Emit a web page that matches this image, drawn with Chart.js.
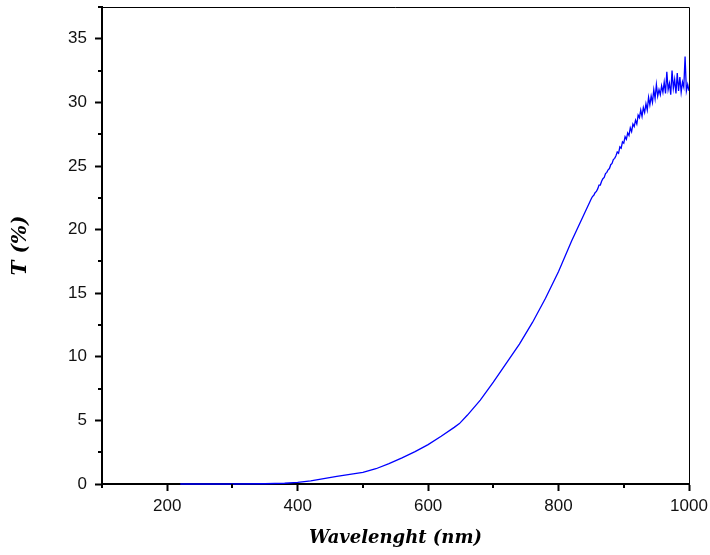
<!DOCTYPE html>
<html>
<head>
<meta charset="utf-8">
<script src="https://cdn.jsdelivr.net/npm/chart.js@4.4.1/dist/chart.umd.min.js"></script>
<style>
  html, body { margin: 0; padding: 0; background: #ffffff; }
  #wrap { width: 710px; height: 555px; position: relative; }
</style>
</head>
<body>
<div id="wrap"><canvas id="c" width="710" height="555"></canvas></div>
<script>
// ---- data ----
const wavelength = [
  220, 250, 300, 350, 380, 400, 420, 440, 460, 480, 500, 520, 540, 560, 580,
  600, 620, 640, 648, 660, 680, 700, 720, 740, 760, 780, 800, 820, 840,
  850, 852, 854, 856, 858, 860, 862, 864, 866, 868, 870, 872, 874, 876, 878,
  880, 882, 884, 886, 888, 890, 892, 894, 896, 898, 900, 902, 904, 906, 908,
  910, 912, 914, 916, 918, 920, 922, 924, 926, 928, 930, 932, 934, 936, 938,
  940, 942, 944, 946, 948, 950, 952, 954, 956, 958, 960, 962, 964, 966, 968,
  970, 972, 974, 976, 978, 980, 982, 984, 986, 988, 990, 992, 994, 996, 998, 1000
];
const transmittance = [
  0.0, 0.0, 0.0, 0.02, 0.06, 0.12, 0.25, 0.42, 0.6, 0.75, 0.92, 1.2, 1.6, 2.05, 2.55,
  3.1, 3.75, 4.45, 4.75, 5.4, 6.6, 8.0, 9.5, 11.0, 12.7, 14.6, 16.7, 19.1, 21.3,
  22.4, 22.6, 22.7, 22.9, 23.0, 23.2, 23.5, 23.5, 23.8, 24.0, 24.1, 24.4, 24.5, 24.7, 24.8,
  25.1, 25.2, 25.5, 25.6, 25.8, 26.1, 26.0, 26.5, 26.4, 26.9, 26.8, 27.3, 27.1, 27.6, 27.4,
  28.0, 27.7, 28.3, 28.1, 28.6, 28.3, 29.0, 28.8, 29.4, 28.9, 29.6, 29.2, 29.9, 29.4, 30.4,
  29.8, 30.5, 30.0, 31.0, 30.3, 31.4, 30.5, 31.0, 30.6, 31.3, 30.8, 31.6, 30.7, 32.4, 31.0,
  31.5, 30.6, 32.5, 31.1, 31.8, 30.7, 32.3, 30.9, 32.0, 30.8, 31.6, 31.2, 33.6, 30.9, 31.4, 30.9
];
const xMajorTicks = [200, 400, 600, 800, 1000];
const xMinorTicks = [100, 300, 500, 700, 900];
const yMajorTicks = [0, 5, 10, 15, 20, 25, 30, 35];
const yMinorTicks = [2.5, 7.5, 12.5, 17.5, 22.5, 27.5, 32.5, 37.5];
const xTitle = 'Wavelenght (nm)';
const yTitle = 'T (%)';

const points = wavelength.map((w, i) => ({ x: w, y: transmittance[i] }));

const minorTicksPlugin = {
  id: 'minorTicks',
  afterDraw(chart) {
    const ctx = chart.ctx;
    const xs = chart.scales.x, ys = chart.scales.y;
    const a = chart.chartArea;
    ctx.save();
    ctx.strokeStyle = '#000';
    ctx.lineWidth = 2;
    ctx.beginPath();
    xMinorTicks.forEach(v => {
      const px = Math.round(xs.getPixelForValue(v));
      ctx.moveTo(px, a.bottom);
      ctx.lineTo(px, a.bottom + 4);
    });
    yMinorTicks.forEach(v => {
      const py = Math.round(ys.getPixelForValue(v));
      ctx.moveTo(a.left, py);
      ctx.lineTo(a.left - 4, py);
    });
    ctx.stroke();
    // top and right frame
    ctx.lineWidth = 1;
    ctx.beginPath();
    ctx.moveTo(a.left, a.top + 0.5);
    ctx.lineTo(a.right + 0.5, a.top + 0.5);
    ctx.lineTo(a.right + 0.5, a.bottom);
    ctx.stroke();
    ctx.restore();
  }
};

new Chart(document.getElementById('c'), {
  type: 'line',
  data: {
    datasets: [{
      data: points,
      borderColor: '#0000ff',
      borderWidth: 1.3,
      pointRadius: 0,
      tension: 0,
      fill: false,
      clip: { left: 0, right: 1, top: 5, bottom: 3 }
    }]
  },
  options: {
    responsive: false,
    animation: false,
    devicePixelRatio: 1,
    layout: { padding: { top: 7, right: 21, left: 0, bottom: 0 } },
    plugins: { legend: { display: false }, tooltip: { enabled: false } },
    scales: {
      x: {
        type: 'linear',
        min: 100, max: 1000,
        afterBuildTicks(scale) { scale.ticks = xMajorTicks.map(v => ({ value: v })); },
        afterFit(scale) { scale.height = 71; scale.paddingLeft = 0; scale.paddingRight = 0; },
        border: { display: true, color: '#000', width: 2 },
        grid: { display: true, drawOnChartArea: false, drawTicks: true, tickLength: 7, tickColor: '#000', tickWidth: 2 },
        ticks: {
          color: '#111', font: { family: 'Liberation Sans, Arial, sans-serif', size: 17 }, padding: 5, maxRotation: 0,
          callback: (v) => String(v)
        },
        title: {
          display: true, text: xTitle, color: '#000',
          font: { family: 'DejaVu Serif', size: 18, style: 'italic', weight: 'bold' },
          padding: { top: 0, bottom: 6 }
        }
      },
      y: {
        type: 'linear',
        min: 0, max: 37.5,
        afterBuildTicks(scale) { scale.ticks = yMajorTicks.map(v => ({ value: v })); },
        afterFit(scale) { scale.width = 102; scale.paddingTop = 0; scale.paddingBottom = 0; },
        border: { display: true, color: '#000', width: 2 },
        grid: { display: true, drawOnChartArea: false, drawTicks: true, tickLength: 7, tickColor: '#000', tickWidth: 2 },
        ticks: {
          color: '#111', font: { family: 'Liberation Sans, Arial, sans-serif', size: 17 }, padding: 8,
          callback: (v) => String(v)
        },
        title: {
          display: true, text: yTitle, color: '#000',
          font: { family: 'DejaVu Serif', size: 20, style: 'italic', weight: 'bold' },
          padding: { top: 9, bottom: 0 }
        }
      }
    }
  },
  plugins: [minorTicksPlugin]
});
</script>
</body>
</html>
